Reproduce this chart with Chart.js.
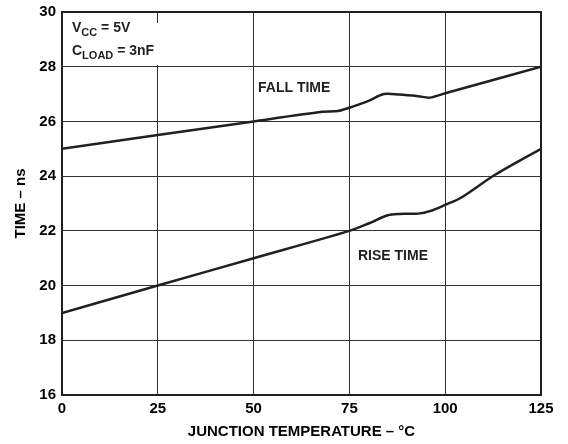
<!DOCTYPE html>
<html lang="en">
<head>
  <meta charset="UTF-8">
  <title>chart</title>
  <style>
    body { margin: 0; background: #fff; }
  </style>
</head>
<body>
  <div style="width: 568px; height: 444px;">
    <canvas id="myChart"></canvas>
  </div>

  <script src="https://cdn.jsdelivr.net/npm/chart.js"></script>
  <script>
    // junction temperature (°C) and times (ns)
    const fallTemp = [0, 50, 68, 72, 76, 80, 84, 88, 93, 96, 100, 125]
    const fallTime = [25, 26, 26.35, 26.38, 26.55, 26.75, 27.0, 26.98, 26.92, 26.87, 27.03, 28]
    const riseTemp = [0, 25, 50, 75, 80, 85, 88, 93, 96, 100, 104, 113, 125]
    const riseTime = [19, 20, 21, 22, 22.27, 22.57, 22.62, 22.63, 22.72, 22.95, 23.2, 24.05, 25]

    const xTicks = [0, 25, 50, 75, 100, 125]
    const yTicks = [16, 18, 20, 22, 24, 26, 28, 30]

    const toPoints = (xs, ys) => xs.map((x, i) => ({ x: x, y: ys[i] }))

    const ink = '#231f20'
    const font = 'Liberation Sans, Arial, sans-serif'

    const notes = {
      id: 'notes',
      beforeDatasetsDraw(chart) {
        const c = chart.ctx
        const a = chart.chartArea
        c.save()
        c.fillStyle = '#fff'
        c.fillRect(a.left + 2, a.top + 11, 108, 42)
        c.restore()
      },
      afterDraw(chart) {
        const c = chart.ctx
        const a = chart.chartArea
        c.save()
        c.fillStyle = ink
        c.textBaseline = 'alphabetic'
        c.textAlign = 'left'

        // supply / load conditions
        const line = (px, py, main, sub, rest) => {
          c.font = 'bold 14px ' + font
          c.fillText(main, px, py)
          let w = c.measureText(main).width
          c.font = 'bold 11px ' + font
          c.fillText(sub, px + w, py + 4)
          w += c.measureText(sub).width
          c.font = 'bold 14px ' + font
          c.fillText(rest, px + w, py)
        }
        line(a.left + 10, a.top + 20, 'V', 'CC', ' = 5V')
        line(a.left + 10, a.top + 43, 'C', 'LOAD', ' = 3nF')

        c.font = 'bold 14px ' + font
        c.fillText('FALL TIME', 258, 92)
        c.fillText('RISE TIME', 358, 260)

        // frame
        c.strokeStyle = ink
        c.lineWidth = 2
        c.strokeRect(a.left, a.top, a.right - a.left, a.bottom - a.top)
        c.restore()
      }
    }

    const ctx = document.getElementById('myChart')

    new Chart(ctx, {
      type: 'line',
      data: {
        datasets: [
          {
            label: 'FALL TIME',
            data: toPoints(fallTemp, fallTime),
            borderColor: ink,
            borderWidth: 2.5,
            pointRadius: 0,
            tension: 0.3
          },
          {
            label: 'RISE TIME',
            data: toPoints(riseTemp, riseTime),
            borderColor: ink,
            borderWidth: 2.5,
            pointRadius: 0,
            tension: 0.3
          }
        ]
      },
      options: {
        responsive: true,
        maintainAspectRatio: false,
        animation: false,
        layout: { padding: { top: 12, right: 27, left: 0, bottom: 0 } },
        plugins: {
          legend: { display: false },
          tooltip: { enabled: false }
        },
        scales: {
          x: {
            type: 'linear',
            min: 0,
            max: 125,
            afterBuildTicks: (s) => { s.ticks = xTicks.map(v => ({ value: v })) },
            afterFit: (s) => { s.height = 49; s.paddingLeft = 0; s.paddingRight = 0 },
            ticks: {
              color: '#000',
              font: { family: font, size: 15, weight: 'bold' },
              padding: 5,
              maxRotation: 0
            },
            grid: { color: '#333', lineWidth: 1, drawTicks: false },
            border: { color: ink, width: 2 },
            title: {
              display: true,
              text: 'JUNCTION TEMPERATURE – °C',
              color: '#000',
              font: { family: font, size: 15, weight: 'bold' },
              padding: { top: 4, bottom: 3 }
            }
          },
          y: {
            min: 16,
            max: 30,
            afterBuildTicks: (s) => { s.ticks = yTicks.map(v => ({ value: v })) },
            afterFit: (s) => { s.width = 62; s.paddingTop = 0; s.paddingBottom = 0 },
            ticks: {
              color: '#000',
              font: { family: font, size: 15, weight: 'bold' },
              padding: 6
            },
            grid: { color: '#333', lineWidth: 1, drawTicks: false },
            border: { color: ink, width: 2 },
            title: {
              display: true,
              text: 'TIME – ns',
              color: '#000',
              font: { family: font, size: 15, weight: 'bold' },
              padding: { top: 12, bottom: 4 }
            }
          }
        }
      },
      plugins: [notes]
    })
  </script>
</body>
</html>
